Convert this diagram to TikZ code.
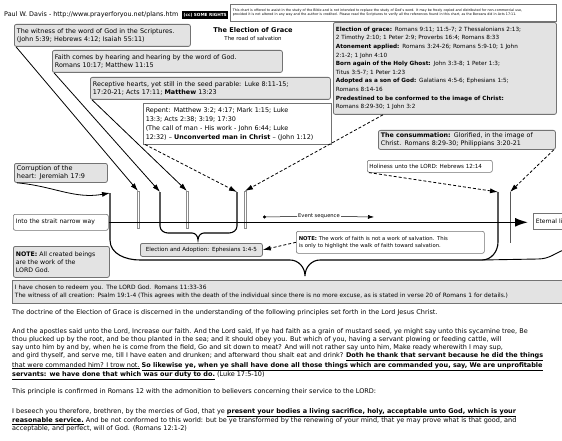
\documentclass[tikz,border=0pt]{standalone}
\usepackage{fontspec}
\setmainfont{DejaVu Sans}
\usetikzlibrary{arrows.meta}
\newcommand\myfs[2]{\fontsize{#1}{#2}\selectfont}
\begin{document}
\begin{tikzpicture}[x=1pt,y=-1pt,
  base/.style={anchor=north west, inner sep=2.5pt, align=left, font=\myfs{6.4}{8}},
  gbox/.style={base, draw=black!55, fill=black!11, rounded corners=2pt, line width=0.8pt},
  wbox/.style={base, draw=black!55, fill=white, rounded corners=2pt, line width=0.6pt},
  sbox/.style={base, draw=black!55, fill=white, line width=0.5pt},
  arr/.style={line width=0.8pt, -{Latex[length=8pt,width=5pt]}},
  darr/.style={arr, dashed, dash pattern=on 3pt off 2pt},
  gbar/.style={anchor=north, draw=black!45, fill=white, minimum width=2.2pt, inner sep=0pt, line width=0.4pt},
  kline/.style={line width=1.1pt},
  para/.style={anchor=north west, inner sep=0pt, align=left, font=\myfs{6.5}{8.2}}
]
\useasboundingbox (0,0) rectangle (562,441);
\fill[white] (0,0) rectangle (562,441);

% header
\node[anchor=west, inner sep=0pt, font=\myfs{6.4}{7}] (hdr) at (4,15) {Paul W. Davis - http://www.prayerforyou.net/plans.htm};
\node[anchor=west, fill=black, text=white, inner sep=1pt, minimum height=8pt, minimum width=46pt, font=\myfs{4.2}{5}\bfseries] (cc) at (182,15.5) {(cc) SOME RIGHTS};
\node[sbox, minimum width=326pt, minimum height=17pt, text width=321pt, font=\myfs{3.3}{4.6}] (tr) at (230,4) {This chart is offered to assist in the study of the Bible and is not intended to replace the study of God's word. It may be freely copied and distributed for non-commercial use,\\ provided it is not altered in any way and the author is credited. Please read the Scriptures to verify all the references found in this chart, as the Bereans did in Acts 17:11.};

% title
\node[inner sep=0pt, font=\myfs{6.6}{8}\bfseries] (title) at (253,30) {The Election of Grace};
\node[inner sep=0pt, font=\myfs{5.4}{6}] (sub) at (253,38.5) {The road of salvation};

% left stacked boxes
\node[gbox, minimum width=176pt, minimum height=22pt, text width=171pt] (b1) at (14,24) {The witness of the word of God in the Scriptures.\\(John 5:39; Hebrews 4:12; Isaiah 55:11)};
\node[gbox, minimum width=230pt, minimum height=22pt, text width=225pt] (b2) at (52,50) {Faith comes by hearing and hearing by the word of God.\\Romans 10:17; Matthew 11:15};
\node[gbox, minimum width=240pt, minimum height=22pt, text width=235pt] (b3) at (90,77) {Receptive hearts, yet still in the seed parable: Luke 8:11-15;\\17:20-21; Acts 17:11; \textbf{Matthew} 13:23};
\node[sbox, minimum width=188pt, minimum height=41pt, text width=183pt, font=\myfs{6.4}{9}] (b4) at (143,103) {Repent: Matthew 3:2; 4:17; Mark 1:15; Luke\\13:3; Acts 2:38; 3:19; 17:30\\(The call of man - His work - John 6:44; Luke\\12:32) -- \textbf{Unconverted man in Christ} -- (John 1:12)};

% right box
\node[gbox, minimum width=223pt, minimum height=92pt, text width=218pt, font=\myfs{5.7}{8.6}] (rb) at (333,22) {\textbf{Election of grace:} Romans 9:11; 11:5-7; 2 Thessalonians 2:13;\\2 Timothy 2:10; 1 Peter 2:9; Proverbs 16:4; Romans 8:33\\\textbf{Atonement applied:} Romans 3:24-26; Romans 5:9-10; 1 John\\2:1-2; 1 John 4:10\\\textbf{Born again of the Holy Ghost:} John 3:3-8; 1 Peter 1:3;\\Titus 3:5-7; 1 Peter 1:23\\\textbf{Adopted as a son of God:} Galatians 4:5-6; Ephesians 1:5;\\Romans 8:14-16\\\textbf{Predestined to be conformed to the image of Christ:}\\Romans 8:29-30; 1 John 3:2};

\node[gbox, minimum width=177pt, minimum height=19pt, text width=172pt, font=\myfs{6.3}{7.6}] (cons) at (378,130) {\textbf{The consummation:} Glorified, in the image of\\Christ. Romans 8:29-30; Philippians 3:20-21};
\node[wbox, minimum width=125pt, minimum height=12pt, text width=121pt, inner xsep=2pt, inner ysep=1pt, font=\myfs{5.6}{6.5}] (holy) at (367,160) {Holiness unto the LORD: Hebrews 12:14};

\node[gbox, minimum width=93pt, minimum height=19pt, text width=88pt, font=\myfs{6.5}{7.8}] (corr) at (14,163) {Corruption of the\\heart: Jeremiah 17:9};
\node[wbox, minimum width=95pt, minimum height=16pt, text width=90pt, font=\myfs{6.1}{7}] (narrow) at (13,214) {Into the strait narrow way};
\node[sbox, minimum width=40pt, minimum height=16pt, text width=35pt, font=\myfs{6}{7}] (etern) at (533,213) {Eternal life};

\node[gbox, minimum width=122pt, minimum height=13pt, text width=117pt, inner ysep=1pt, align=center, font=\myfs{5.6}{6.5}] (elad) at (140,243) {Election and Adoption: Ephesians 1:4-5};
\node[wbox, minimum width=188pt, minimum height=22pt, text width=183pt, font=\myfs{5.3}{6.8}] (note1) at (296,231) {\textbf{NOTE:} The work of faith is not a work of salvation. This\\is only to highlight the walk of faith toward salvation.};
\node[gbox, minimum width=96pt, minimum height=31pt, text width=91pt, font=\myfs{6.2}{8.2}] (note2) at (13,246) {\textbf{NOTE:} All created beings\\are the work of the\\LORD God.};

\node[gbox, minimum width=562pt, minimum height=23pt, text width=557pt, rounded corners=0pt, font=\myfs{5.9}{8}] (full) at (12,280) {I have chosen to redeem you. The LORD God. Romans 11:33-36\\The witness of all creation: Psalm 19:1-4 (This agrees with the death of the individual since there is no more excuse, as is stated in verse 20 of Romans 1 for details.)};

% bars
\node[gbar, minimum height=37pt] (g1) at (138,191) {};
\node[gbar, minimum height=37pt] (g2) at (187,191) {};
\node[gbar, minimum height=37pt] (g3) at (245,191) {};
\node[anchor=north, fill=black!65, minimum width=1pt, inner sep=0pt, minimum height=51pt] (g4) at (510,192) {};
\coordinate (k1) at (110,193);
\coordinate (k2) at (160,192);
\coordinate (k3) at (237,192);
\coordinate (k4) at (498,192);

% braces
\draw[kline] (k2) -- (160,226) to[out=-90,in=180] (168,233) -- (192,233) to[out=0,in=90] (198,240) to[out=90,in=180] (204,233) -- (229,233) to[out=0,in=-90] (237,226) -- (k3);
\draw[kline] (k1) -- (110,240) to[out=-90,in=180] (140,260) -- (290,260) to[out=0,in=90] (305,276) to[out=90,in=180] (320,260) -- (482,260) to[out=0,in=-90] (498,242) -- (k4);
\draw[line width=0.9pt] (482,260) -- (538,259) to[out=0,in=200] (566,249);

% main arrow
\draw[line width=1.6pt, -{Latex[length=13pt,width=9pt]}, shorten >=5pt] (narrow.east) -- (narrow.east -| etern.west);

% event sequence
\node[inner sep=1pt, font=\myfs{5.2}{6}] (evt) at (319,216.5) {Event sequence};
\coordinate (evdot) at (263,217);
\coordinate (evtip) at (374,217);
\draw[line width=0.5pt, {Circle[length=3pt]}-] (evdot) -- (evt.west);
\draw[line width=0.5pt, -{Latex[length=6pt,width=4pt]}] (evt.east) -- (evtip);

% arrows into bars
\draw[arr] ([xshift=2pt]b1.south west) -- (g1.north);
\draw[arr] ([xshift=2pt]b2.south west) -- (k2);
\draw[arr] ([xshift=2pt]b3.south west) -- (g2.north);
\draw[darr] ([xshift=2pt]b4.south west) -- (k3);
\draw[darr] ([xshift=50pt]rb.south west) -- (g3.north);
\draw[arr] ([xshift=3pt]corr.south west) to[out=-5,in=190] (k1);
\draw[darr] ([xshift=2pt]holy.south west) -- (k4);
\draw[darr] ([xshift=-2pt]cons.south east) -- (g4.north);
\draw[darr] (note1.west) -- (elad.east);

% paragraphs
\node[para] (p1) at (12,309) {The doctrine of the Election of Grace is discerned in the understanding of the following principles set forth in the Lord Jesus Christ.};
\node[para] (p2) at (12,328) {And the apostles said unto the Lord, Increase our faith. And the Lord said, If ye had faith as a grain of mustard seed, ye might say unto this sycamine tree, Be\\
thou plucked up by the root, and be thou planted in the sea; and it should obey you. But which of you, having a servant plowing or feeding cattle, will\\
say unto him by and by, when he is come from the field, Go and sit down to meat? And will not rather say unto him, Make ready wherewith I may sup,\\
and gird thyself, and serve me, till I have eaten and drunken; and afterward thou shalt eat and drink? \textbf{\underline{Doth he thank that servant because he did the things}}\\
\underline{that were commanded him? I trow not.} \textbf{\underline{So likewise ye, when ye shall have done all those things which are commanded you, say, We are unprofitable}}\\
\textbf{\underline{servants: we have done that which was our duty to do.}} (Luke 17:5-10)};
\node[para] (p3) at (12,388) {This principle is confirmed in Romans 12 with the admonition to believers concerning their service to the LORD:};
\node[para] (p4) at (12,408) {I beseech you therefore, brethren, by the mercies of God, that ye \textbf{\underline{present your bodies a living sacrifice, holy, acceptable unto God, which is your}}\\
\textbf{\underline{reasonable service.}} And be not conformed to this world: but be ye transformed by the renewing of your mind, that ye may prove what is that good, and\\
acceptable, and perfect, will of God. (Romans 12:1-2)};
\end{tikzpicture}
\end{document}
